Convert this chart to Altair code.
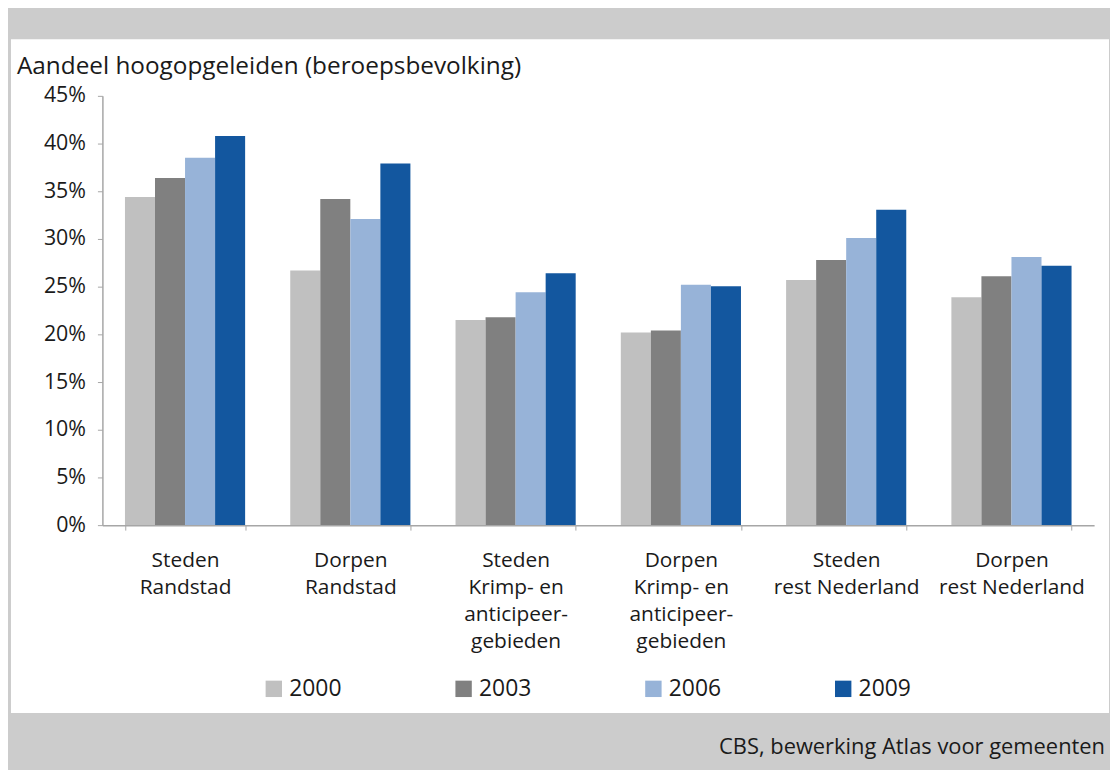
import altair as alt
import pandas as pd

categories = [
    "Steden|Randstad",
    "Dorpen|Randstad",
    "Steden|Krimp- en|anticipeer-|gebieden",
    "Dorpen|Krimp- en|anticipeer-|gebieden",
    "Steden|rest Nederland",
    "Dorpen|rest Nederland",
]
years = ["2000", "2003", "2006", "2009"]
v2000 = [34.4, 26.7, 21.5, 20.2, 25.7, 23.9]
v2003 = [36.4, 34.2, 21.8, 20.4, 27.8, 26.1]
v2006 = [38.5, 32.1, 24.4, 25.2, 30.1, 28.1]
v2009 = [40.8, 37.9, 26.4, 25.05, 33.05, 27.2]
colors = ["#c0c0c0", "#808080", "#97b3d8", "#13579f"]
y_ticks = [0, 5, 10, 15, 20, 25, 30, 35, 40, 45]

title_text = "Aandeel hoogopgeleiden (beroepsbevolking)"
source_text = "CBS, bewerking Atlas voor gemeenten"

rows = []
for yr, vals in zip(years, [v2000, v2003, v2006, v2009]):
    for c, v in zip(categories, vals):
        rows.append({"groep": c, "jaar": yr, "aandeel": v})
df = pd.DataFrame(rows)

FONT = "Open Sans"
TXT = "#1a1a1a"
AX = "#a6a6a6"
W, H = 998, 432

panel = alt.Chart(alt.Data(values=[{}])).mark_rect(color="white").encode(
    x=alt.value(-92), x2=alt.value(1013), y=alt.value(-57), y2=alt.value(621)
)

bars = alt.Chart(df).mark_bar().encode(
    x=alt.X(
        "groep:N",
        sort=categories,
        title=None,
        scale=alt.Scale(paddingInner=0.273, paddingOuter=0.1365),
        axis=alt.Axis(
            labelExpr="split(datum.label, '|')",
            labelAngle=0,
            labelFont=FONT,
            labelFontSize=21,
            labelLineHeight=27,
            labelColor=TXT,
            labelPadding=20,
            tickBand="extent",
            tickSize=5,
            tickColor=AX,
            domainColor=AX,
            domainWidth=1.5,
            zindex=2,
        ),
    ),
    xOffset=alt.XOffset("jaar:N", sort=years, scale=alt.Scale(paddingInner=0, paddingOuter=0)),
    y=alt.Y(
        "aandeel:Q",
        scale=alt.Scale(domain=[0, 45], nice=False),
        axis=alt.Axis(
            values=y_ticks,
            labelExpr="datum.value + '%'",
            grid=False,
            title=None,
            labelFont=FONT,
            labelFontSize=21.5,
            labelColor=TXT,
            labelPadding=12,
            tickSize=5,
            tickColor=AX,
            domainColor=AX,
            domainWidth=1.5,
            zindex=2,
        ),
    ),
    color=alt.Color(
        "jaar:N",
        scale=alt.Scale(domain=years, range=colors),
        legend=alt.Legend(
            title=None,
            orient="none",
            legendX=161,
            legendY=585,
            direction="horizontal",
            columns=4,
            symbolType="square",
            symbolSize=272,
            symbolStrokeWidth=0,
            labelFont=FONT,
            labelFontSize=23,
            labelColor=TXT,
            labelOffset=4,
            columnPadding=111,
            zindex=2,
        ),
    ),
)

title = alt.Chart(alt.Data(values=[{}])).mark_text(
    text=title_text, font=FONT, fontSize=24.5, color=TXT, align="left", baseline="alphabetic"
).encode(x=alt.value(-86), y=alt.value(-22))

source = alt.Chart(alt.Data(values=[{}])).mark_text(
    text=source_text, font=FONT, fontSize=22, color=TXT, align="right", baseline="alphabetic"
).encode(x=alt.value(1009), y=alt.value(662))

chart = alt.layer(panel, bars, title, source).properties(
    width=W,
    height=H,
    autosize=alt.AutoSizeParams(type="none"),
    padding={"left": 95, "top": 86, "right": 16, "bottom": 244},
    background="#cccccc",
).configure_view(stroke=None)

chart.save("out.html", embed_options={"renderer": "svg", "actions": False})
